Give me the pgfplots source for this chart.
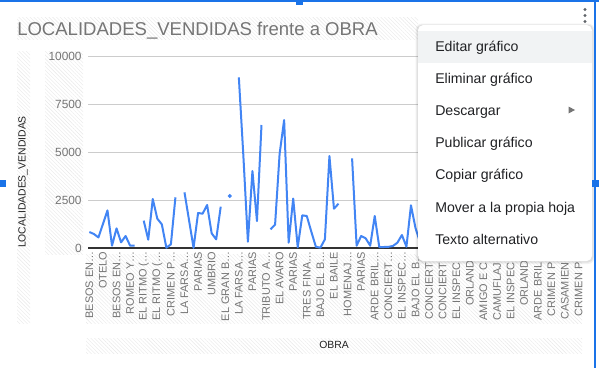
\documentclass[border=0pt]{standalone}
\usepackage{fontspec}
\setmainfont{Liberation Sans}
\usepackage{pgfplots}
\usepackage{pgfplotstable}
\pgfplotsset{compat=1.18}
\usetikzlibrary{patterns.meta}
\definecolor{gblue}{HTML}{4285F4}
\definecolor{ggrid}{HTML}{CCCCCC}
\definecolor{gtxt}{HTML}{757575}
\definecolor{gdark}{HTML}{222222}
\definecolor{gaxis}{HTML}{333333}
\definecolor{sel}{HTML}{1A73E8}
\definecolor{menutxt}{HTML}{202124}
\definecolor{menuhl}{HTML}{F1F3F4}
\definecolor{dots}{HTML}{5F6368}

\pgfplotstableread{
x y
0 833
1 729
2 552
3 1250
4 1958
5 122
6 1024
7 295
8 625
9 122
10 122
11 nan
12 1424
13 434
14 2552
15 1528
16 1233
17 17
18 191
19 2639
20 nan
21 2899
22 1458
23 10
24 1823
25 1788
26 2240
27 764
28 451
29 2153
30 nan
31 2708
32 nan
33 8889
34 4800
35 328
36 4010
37 1406
38 6406
39 nan
40 974
41 1214
42 4900
43 6667
44 276
45 2578
46 36
47 1700
48 1667
49 849
50 68
51 16
52 451
53 4792
54 2047
55 2307
56 nan
57 nan
58 4670
59 120
60 625
61 505
62 120
63 1667
64 52
65 52
66 60
67 104
68 276
69 677
70 68
71 2224
72 1042
73 300
}\obras

\begin{document}
\begin{tikzpicture}
\begin{scope}[x=0.75pt,y=-0.75pt]
\path[use as bounding box, fill=white] (0,0) rectangle (599,368);
\tikzset{hatch/.style={pattern={Lines[angle=-45,distance=2pt,line width=0.3pt]}, pattern color=black!9}}
\fill[hatch] (17,17) rectangle (418,39);
\fill[hatch] (17,51) rectangle (30,323);
\fill[hatch] (45,51) rectangle (83,254);
\fill[hatch] (86,254) rectangle (582,323);
\fill[hatch] (86,338) rectangle (582,353);
\node[anchor=base west, inner sep=0pt, text=gtxt, font=\fontsize{13.9}{16}\selectfont] at (17,35) {LOCALIDADES\_VENDIDAS frente a OBRA};
\node[rotate=90, inner sep=0pt, text=gdark, font=\fontsize{7.8}{9}\selectfont] at (23,182) {LOCALIDADES\_VENDIDAS};
\node[inner sep=0pt, text=gdark, font=\fontsize{7.8}{9}\selectfont] at (334,345) {OBRA};
\end{scope}

\begin{axis}[
  at={(66pt,-186pt)}, anchor=south west,
  scale only axis, width=373.7pt, height=144pt,
  xmin=-0.3, xmax=109.7, ymin=0, ymax=10000,
  axis line style={draw=none},
  major tick length=0pt,
  ytick={0,2500,5000,7500,10000},
  ymajorgrids, grid style={ggrid, line width=0.75pt},
  scaled y ticks=false,
  yticklabel style={anchor=east, inner sep=0pt, xshift=-4.6pt, text=gtxt, font=\fontsize{8.9}{10}\selectfont},
  xtick={0,3,...,108},
  xticklabels={BESOS EN…,OTELO,BESOS EN…,ROMEO Y…,EL RITMO (…,EL RITMO (…,CRIMEN P…,LA FARSA…,PARIAS,UMBRIO,EL GRAN B…,LA FARSA…,PARIAS,TRIBUTO A…,EL AVARO,PARIAS,TRES FINA…,BAJO EL B…,EL BAILE,HOMENAJ…,PARIAS,ARDE BRIL…,CONCIERT…,EL INSPEC…,BAJO EL B…,CONCIERT…,CONCIERT…,EL INSPEC…,ORLANDO,AMIGO E C…,CAMUFLAJ…,EL INSPEC…,ORLANDO,ARDE BRIL…,CRIMEN P…,CASAMIEN…,CRIMEN P…},
  xticklabel style={rotate=90, anchor=east, inner xsep=2.6pt, inner ysep=0pt, text=gtxt, font=\fontsize{8.2}{9}\selectfont},
  /pgf/number format/1000 sep={},
  /pgf/number format/assume math mode=true,
  clip=false,
]
\draw[gaxis, line width=0.9pt] (axis cs:-0.3,0) -- (axis cs:109.7,0);
\addplot[gblue, line width=1.5pt, line join=round, unbounded coords=jump] table[x=x,y=y]{\obras};
\addplot[gblue, only marks, mark=*, mark size=1.3pt] coordinates {(31,2708)};
\end{axis}

\begin{scope}[x=0.75pt,y=-0.75pt]
% three dots icon
\fill[dots] (585,9.5) circle (1.7);
\fill[dots] (585,15.5) circle (1.7);
\fill[dots] (585,21.5) circle (1.7);
% menu shadow and box
\fill[black, opacity=0.05, rounded corners=5] (415.5,23.5) rectangle (594.5,264);
\fill[black, opacity=0.07, rounded corners=4] (416.5,24.5) rectangle (593.5,262.5);
\fill[white, rounded corners=4] (418,25) rectangle (592,261);
\fill[menuhl] (418,31) rectangle (592,62.5);
\tikzset{mi/.style={anchor=base west, inner sep=0pt, text=menutxt, font=\fontsize{10.6}{12}\selectfont}}
\node[mi] at (435,51) {Editar gráfico};
\node[mi] at (435,83.2) {Eliminar gráfico};
\node[mi] at (435,115.4) {Descargar};
\node[mi] at (435,147.6) {Publicar gráfico};
\node[mi] at (435,179.8) {Copiar gráfico};
\node[mi] at (435,212) {Mover a la propia hoja};
\node[mi] at (435,244.2) {Texto alternativo};
\fill[gtxt] (568.5,106.5) -- (575,110) -- (568.5,113.5) -- cycle;
% selection frame
\fill[sel] (0,0) rectangle (599,1.6);
\fill[sel] (594.4,0) rectangle (596,368);
\fill[sel] (295.5,0) rectangle (302.5,4.5);
\fill[sel] (0,180) rectangle (6,187);
\fill[sel] (592,180) rectangle (599,187);
\end{scope}
\end{tikzpicture}
\end{document}
